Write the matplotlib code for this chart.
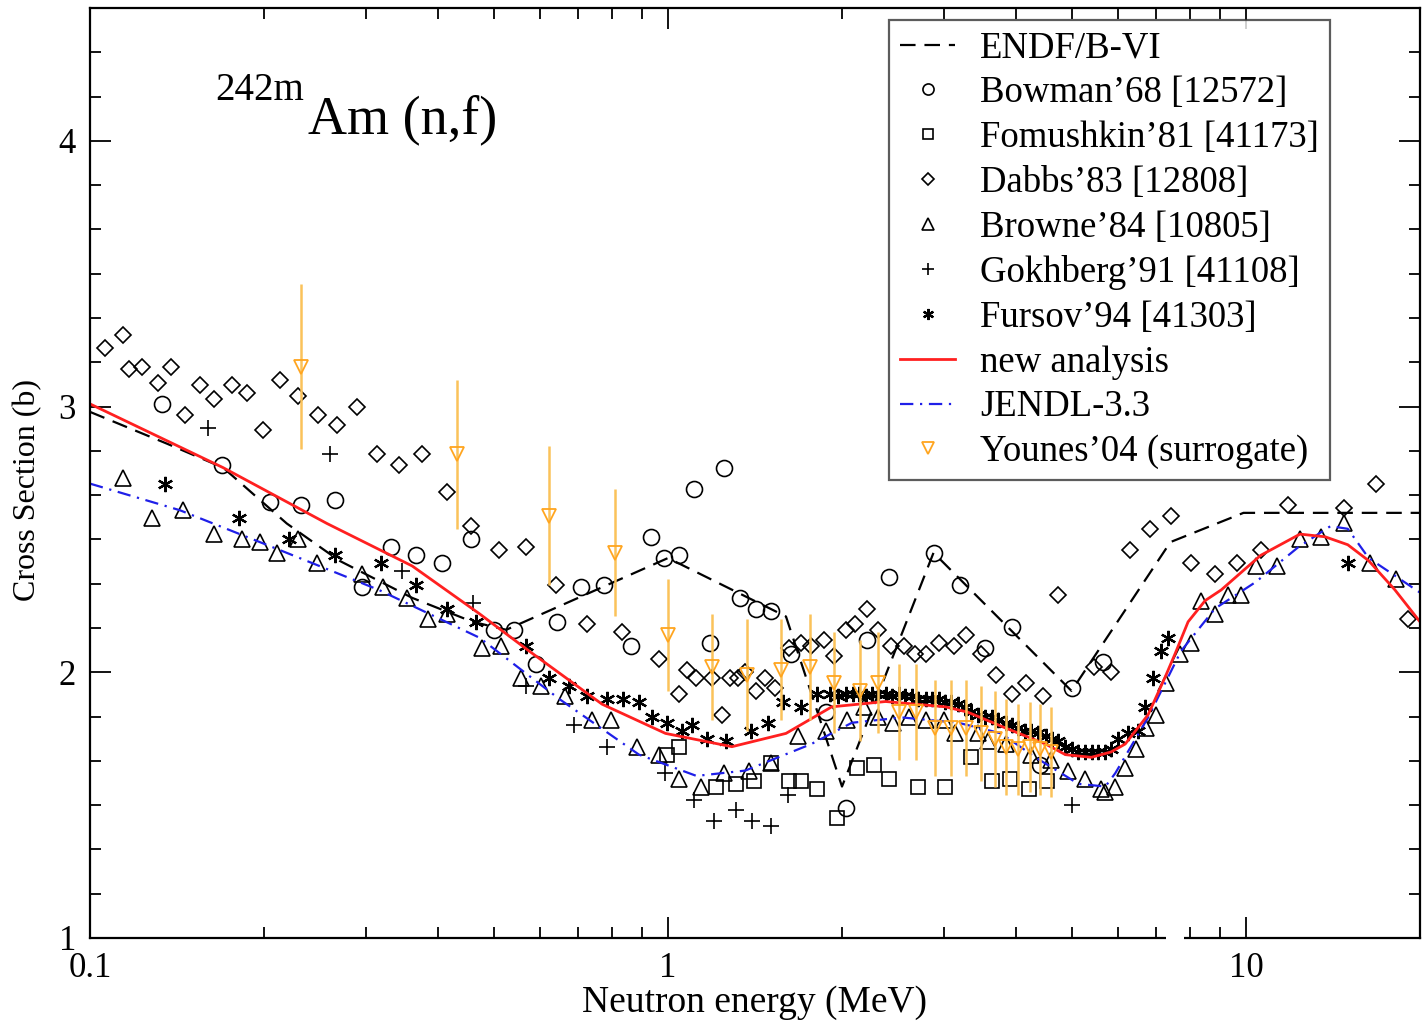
"""242mAm(n,f) cross section: evaluations compared with experimental data."""

import matplotlib

matplotlib.use("Agg")
import matplotlib.pyplot as plt  # noqa: E402
from matplotlib.lines import Line2D  # noqa: E402
from matplotlib.patches import Rectangle  # noqa: E402
from matplotlib.ticker import (FuncFormatter, LogLocator, MultipleLocator,  # noqa: E402
                               NullFormatter)
from matplotlib.transforms import blended_transform_factory  # noqa: E402

plt.rcParams["font.family"] = ["Liberation Serif", "DejaVu Serif"]

_ORANGE = "#FFA51F"
_ORANGE_BAR = "#FBC25A"

# --- evaluated curves (E in MeV, sigma in b) ---
endf_e = [0.1, 0.136, 0.17, 0.219, 0.27, 0.361, 0.459, 0.525, 1.0, 1.6, 2.0,
          2.88, 4.99, 7.4, 9.9, 20.0]
endf_s = [2.98, 2.86, 2.77, 2.56, 2.42, 2.28, 2.19, 2.16, 2.43, 2.21, 1.57,
          2.45, 1.93, 2.49, 2.60, 2.60]

new_e = [0.1, 0.17, 0.257, 0.361, 0.472, 0.575, 0.769, 0.99, 1.29, 1.6, 1.92,
         2.38, 3.02, 3.3, 3.84, 4.5, 4.87, 5.4, 5.84, 6.18, 6.77, 7.24, 7.54,
         7.94, 8.5, 9.06, 10.6, 12.4, 13.7, 15.0, 16.3, 18.1, 20.0]
new_s = [3.01, 2.77, 2.56, 2.40, 2.22, 2.08, 1.88, 1.77, 1.72, 1.77, 1.87,
         1.89, 1.87, 1.85, 1.79, 1.73, 1.69, 1.68, 1.70, 1.73, 1.84, 1.98, 2.07,
         2.19, 2.27, 2.31, 2.44, 2.52, 2.51, 2.48, 2.42, 2.31, 2.19]

jendl_e = [0.1, 0.143, 0.213, 0.316, 0.472, 0.648, 0.891, 1.12, 1.36, 1.77,
           2.08, 2.54, 3.18, 3.77, 4.32, 5.13, 5.71, 5.94, 6.77, 7.72, 8.84,
           10.4, 12.3, 14.0, 15.0, 16.3, 20.0]
jendl_s = [2.71, 2.61, 2.46, 2.31, 2.13, 1.90, 1.69, 1.61, 1.63, 1.73,
           1.81, 1.83, 1.81, 1.77, 1.68, 1.58, 1.57, 1.62, 1.83, 2.08, 2.24,
           2.34, 2.47, 2.55, 2.54, 2.43, 2.30]

# --- experimental data ---
bowman_e = [0.133, 0.169, 0.205, 0.232, 0.265, 0.296, 0.332, 0.367, 0.407,
            0.457, 0.50, 0.542, 0.591, 0.643, 0.708, 0.775, 0.863, 0.935,
            0.985, 1.045, 1.11, 1.25, 1.18, 1.33, 1.42, 1.51, 1.63, 1.88,
            2.03, 2.21, 2.41, 2.88, 3.2, 3.54, 3.93, 4.41, 4.99, 5.66]
bowman_s = [3.01, 2.78, 2.64, 2.63, 2.65, 2.32, 2.47, 2.44, 2.41,
            2.50, 2.16, 2.16, 2.03, 2.19, 2.32, 2.33, 2.10, 2.51,
            2.43, 2.44, 2.69, 2.77, 2.11, 2.28, 2.24, 2.23, 2.07, 1.85,
            1.49, 2.12, 2.36, 2.45, 2.33, 2.09, 2.17, 1.65, 1.94, 2.04]

fomushkin_e = [0.996, 1.045, 1.21, 1.31, 1.41, 1.51, 1.62, 1.70, 1.81, 1.96,
               2.12, 2.27, 2.41, 2.71, 3.02, 3.34, 3.63, 3.91, 4.22, 4.52]
fomushkin_s = [1.69, 1.72, 1.57, 1.58, 1.59, 1.66, 1.59, 1.59, 1.56, 1.45,
               1.64, 1.65, 1.60, 1.57, 1.57, 1.68, 1.59, 1.60, 1.56, 1.59]

dabbs_e = [0.106, 0.114, 0.117, 0.123, 0.131, 0.138, 0.146, 0.155, 0.164,
           0.176, 0.187, 0.199, 0.213, 0.229, 0.248, 0.267, 0.29, 0.314,
           0.343, 0.376, 0.414, 0.457, 0.511, 0.569, 0.641, 0.725, 0.833,
           0.964, 1.045, 1.08, 1.12, 1.19, 1.24, 1.28, 1.32, 1.36, 1.42,
           1.47, 1.53, 1.62, 1.70, 1.77, 1.86, 1.94, 2.03, 2.11, 2.21, 2.31,
           2.43, 2.56, 2.68, 2.80, 2.94, 3.12, 3.28, 3.48, 3.70, 3.93, 4.17,
           4.46, 4.73, 5.45, 5.85, 6.3, 6.83, 7.42, 8.04, 8.84, 9.64, 10.6,
           11.8, 14.8, 16.8, 19.05]
dabbs_s = [3.22, 3.27, 3.14, 3.15, 3.09, 3.15, 2.97, 3.08, 3.03,
           3.08, 3.05, 2.91, 3.10, 3.04, 2.97, 2.93, 3.00, 2.82,
           2.78, 2.82, 2.68, 2.55, 2.46, 2.47, 2.33, 2.18, 2.15,
           2.05, 1.92, 2.01, 1.98, 1.98, 1.84, 1.98, 1.98, 2.00, 1.93,
           1.98, 1.94, 2.09, 2.11, 2.10, 2.12, 2.06, 2.16, 2.18, 2.24, 2.16,
           2.10, 2.10, 2.07, 2.07, 2.11, 2.10, 2.14, 2.07, 1.99, 1.92, 1.96,
           1.91, 2.29, 2.02, 2.00, 2.46, 2.54, 2.59, 2.41, 2.37, 2.41, 2.46,
           2.63, 2.62, 2.71, 2.20]

browne_e = [0.114, 0.128, 0.145, 0.164, 0.183, 0.197, 0.211, 0.229, 0.247,
            0.295, 0.321, 0.354, 0.384, 0.414, 0.477, 0.515, 0.557, 0.604,
            0.664, 0.739, 0.798, 0.883, 0.964, 1.045, 1.14, 1.25, 1.38, 1.51,
            1.68, 1.88, 2.04, 2.18, 2.31, 2.45, 2.61, 2.80, 3.00, 3.14, 3.44,
            3.58, 3.84, 4.25, 4.6, 4.93, 5.27, 5.62, 5.71, 5.94, 6.18, 6.45,
            6.72, 7.0, 7.27, 7.69, 8.04, 8.36, 8.84, 9.31, 9.8, 10.4, 11.3,
            12.4, 13.5, 14.8, 16.4, 18.2]
browne_s = [2.73, 2.58, 2.61, 2.52, 2.50, 2.49, 2.45, 2.50, 2.41,
            2.37, 2.32, 2.28, 2.20, 2.22, 2.09, 2.10, 1.98, 1.95,
            1.91, 1.82, 1.82, 1.72, 1.69, 1.60, 1.57, 1.62, 1.63, 1.66,
            1.76, 1.78, 1.82, 1.87, 1.83, 1.81, 1.83, 1.82, 1.82, 1.77, 1.77,
            1.74, 1.73, 1.69, 1.67, 1.63, 1.60, 1.56, 1.55, 1.57, 1.64, 1.71,
            1.79, 1.84, 1.96, 2.07, 2.11, 2.27, 2.22, 2.29, 2.29, 2.40, 2.40,
            2.50, 2.51, 2.56, 2.41, 2.35]

gokhberg_e = [0.16, 0.26, 0.346, 0.459, 0.569, 0.688, 0.785, 0.99, 1.11, 1.2,
              1.31, 1.4, 1.51, 1.61, 4.99]
gokhberg_s = [2.92, 2.82, 2.38, 2.26, 1.95, 1.80, 1.72, 1.62, 1.52, 1.44,
              1.48, 1.44, 1.42, 1.54, 1.50]

fursov_e = [0.135, 0.181, 0.221, 0.265, 0.319, 0.367, 0.414, 0.466, 0.569,
            0.622, 0.675, 0.725, 0.785, 0.836, 0.891, 0.938, 0.996, 1.057,
            1.10, 1.167, 1.26, 1.39, 1.49, 1.58, 1.70, 1.81, 1.91, 1.97, 2.03,
            2.09, 2.14, 2.20, 2.25, 2.31, 2.38, 2.44, 2.51, 2.57, 2.64, 2.71,
            2.79, 2.86, 2.94, 3.01, 3.09, 3.18, 3.27, 3.35, 3.44, 3.53, 3.63,
            3.73, 3.84, 3.94, 4.04, 4.15, 4.25, 4.37, 4.5, 4.61, 4.73, 4.86,
            5.0, 5.13, 5.27, 5.41, 5.55, 5.7, 5.85, 6.01, 6.26, 6.5, 6.69,
            6.9, 7.12, 7.33, 15.0]
fursov_s = [2.71, 2.58, 2.50, 2.44, 2.41, 2.33, 2.24, 2.19, 2.10,
            1.98, 1.95, 1.91, 1.90, 1.90, 1.89, 1.83, 1.81, 1.78,
            1.80, 1.75, 1.74, 1.78, 1.81, 1.89, 1.87, 1.92, 1.92, 1.91, 1.92,
            1.92, 1.92, 1.91, 1.92, 1.92, 1.92, 1.91, 1.92, 1.91, 1.91, 1.90,
            1.90, 1.90, 1.90, 1.89, 1.89, 1.88, 1.87, 1.85, 1.84, 1.83, 1.83,
            1.82, 1.81, 1.80, 1.79, 1.78, 1.78, 1.77, 1.76, 1.75, 1.74, 1.72,
            1.71, 1.70, 1.70, 1.70, 1.70, 1.70, 1.71, 1.75, 1.77, 1.78, 1.87,
            1.98, 2.08, 2.13, 2.41]

younes_e = [0.232, 0.432, 0.622, 0.81, 1.0, 1.19, 1.37, 1.57, 1.76, 1.94,
            2.15, 2.31, 2.51, 2.69, 2.9, 3.09, 3.28, 3.48, 3.68, 3.85, 4.04,
            4.23, 4.41, 4.6]
younes_s = [3.15, 2.82, 2.59, 2.45, 2.14, 2.02, 1.99, 2.01, 2.02, 1.96,
            1.93, 1.96, 1.85, 1.85, 1.79, 1.79, 1.79, 1.77, 1.75, 1.72, 1.71,
            1.72, 1.71, 1.70]
younes_err = [0.31, 0.28, 0.26, 0.24, 0.21, 0.20, 0.21, 0.19, 0.20, 0.19,
              0.19, 0.19, 0.18, 0.18, 0.18, 0.18, 0.18, 0.18, 0.18, 0.18, 0.17,
              0.17, 0.17, 0.17]

W, H = 1423, 1024
fig = plt.figure(figsize=(W / 100, H / 100), dpi=100)
ax = fig.add_axes((90 / W, 86 / H, 1330 / W, 930 / H))

# open black markers for the measurements
marker_kw = dict(ls="none", mfc="none", mec="black", mew=1.2)
ax.plot(bowman_e, bowman_s, marker="o", ms=11.5, **marker_kw)
ax.plot(fomushkin_e, fomushkin_s, marker="s", ms=10, **marker_kw)
ax.plot(dabbs_e, dabbs_s, marker="D", ms=8.5, **marker_kw)
ax.plot(browne_e, browne_s, marker="^", ms=11, **marker_kw)
ax.plot(gokhberg_e, gokhberg_s, marker="+", ms=11, **marker_kw)
ax.plot(fursov_e, fursov_s, ls="none", marker=(6, 2, 0), ms=11, mec="black",
        mew=1.6)

ax.plot(endf_e, endf_s, color="black", lw=1.6, dashes=(7, 4))
ax.plot(jendl_e, jendl_s, color="#1f1fe8", lw=1.6, dashes=(6, 3, 1, 3))
ax.plot(new_e, new_s, color="#ff2020", lw=2.0)

ax.errorbar(younes_e, younes_s, yerr=younes_err, fmt="none",
            ecolor=_ORANGE_BAR, elinewidth=1.8, capsize=0)
ax.plot(younes_e, younes_s, ls="none", marker="v", ms=10, mfc="none",
        mec=_ORANGE, mew=1.3)

ax.set_xscale("log")
ax.set_xlim(0.1, 20)
ax.set_ylim(1, 4.5)
ax.xaxis.set_major_locator(LogLocator(base=10))
ax.xaxis.set_minor_locator(LogLocator(base=10, subs=range(2, 10)))
ax.xaxis.set_major_formatter(FuncFormatter(lambda v, _: f"{v:g}"))
ax.xaxis.set_minor_formatter(NullFormatter())
ax.yaxis.set_major_locator(MultipleLocator(1))
ax.yaxis.set_minor_locator(MultipleLocator(1 / 6))
ax.tick_params(which="both", direction="in", top=True, right=True,
               labelsize=25, width=1.3)
ax.tick_params(which="major", length=15, pad=10)
ax.tick_params(which="minor", length=8)
for sp in ax.spines.values():
    sp.set_linewidth(1.6)

# little break in the bottom axis (like the original)
trans = blended_transform_factory(ax.transData, ax.transAxes)
ax.add_patch(Rectangle((7.28, -0.012), 0.53, 0.024, transform=trans,
                       facecolor="white", edgecolor="none", clip_on=False,
                       zorder=10))

fig.text(755 / W, 1 - 1003 / H, "Neutron energy (MeV)", ha="center",
         va="center", fontsize=27)
fig.text(28 / W, 1 - 490 / H, "Cross Section (b)", ha="center", va="center",
         rotation=90, fontsize=23)
fig.text(215 / W, 1 - 100 / H, "242m", ha="left", va="baseline", fontsize=28)
fig.text(308 / W, 1 - 133 / H, "Am (n,f)", ha="left", va="baseline",
         fontsize=39)

handles = [
    Line2D([], [], color="black", lw=1.6, dashes=(7, 4)),
    Line2D([], [], marker="o", ms=8, **marker_kw),
    Line2D([], [], marker="s", ms=7, **marker_kw),
    Line2D([], [], marker="D", ms=6, **marker_kw),
    Line2D([], [], marker="^", ms=8, **marker_kw),
    Line2D([], [], marker="+", ms=8, **marker_kw),
    Line2D([], [], ls="none", marker=(6, 2, 0), ms=8, mec="black", mew=1.6),
    Line2D([], [], color="#ff2020", lw=2.0),
    Line2D([], [], color="#1f1fe8", lw=1.6, dashes=(6, 3, 1, 3)),
    Line2D([], [], ls="none", marker="v", ms=8, mfc="none", mec=_ORANGE,
           mew=1.3),
]
labels = ["ENDF/B-VI", "Bowman\u201968 [12572]", "Fomushkin\u201981 [41173]",
          "Dabbs\u201983 [12808]", "Browne\u201984 [10805]",
          "Gokhberg\u201991 [41108]", "Fursov\u201994 [41303]", "new analysis",
          "JENDL-3.3", "Younes\u201904 (surrogate)"]
leg = fig.legend(handles, labels, loc="upper left",
                 bbox_to_anchor=(889 / W, 1 - 20 / H), fontsize=26.5,
                 frameon=True, fancybox=False, edgecolor="#333333",
                 numpoints=1, handlelength=1.5, handletextpad=0.68,
                 labelspacing=0.28, borderpad=0.3, borderaxespad=0)
leg.get_frame().set_linewidth(1.6)

fig.savefig("out.png", dpi=100)
plt.close(fig)
